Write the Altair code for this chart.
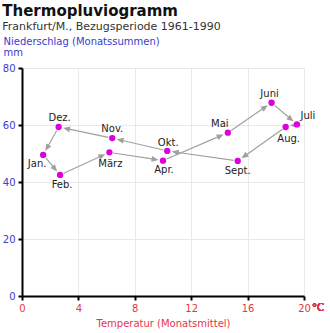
import math
import altair as alt
import pandas as pd

# ---- data ----
months = ["Jan.", "Feb.", "März", "Apr.", "Mai", "Juni", "Juli", "Aug.", "Sept.", "Okt.", "Nov.", "Dez."]
temp = [1.5, 2.7, 6.2, 10.0, 14.6, 17.7, 19.5, 18.7, 15.3, 10.3, 6.4, 2.6]
precip = [49.5, 42.5, 50.4, 47.5, 57.3, 67.8, 60.2, 59.3, 47.4, 50.9, 55.4, 59.3]
x_ticks = list(range(0, 21, 2))
y_ticks = list(range(0, 81, 10))

# ---- layout / style ----
W, H = 282, 228
X_MAX, Y_MAX = 20, 80
kx, ky = W / X_MAX, H / Y_MAX
FONT = "DejaVu Sans"
BLUE = "#3b3bcc"
RED = "#e8344a"
GRAY = "#a0a0a0"
MAGENTA = "#dd00dd"

label_offsets = {
    "Jan.": (-6, 9), "Feb.": (2, 10), "März": (1, 12), "Apr.": (1, 9),
    "Mai": (-8, -9), "Juni": (-2, -9), "Juli": (11, -8), "Aug.": (3, 12),
    "Sept.": (0, 10), "Okt.": (1, -8), "Nov.": (0, -9), "Dez.": (1, -9),
}

pts = pd.DataFrame({"month": months, "temp": temp, "precip": precip})

# arrow segments month i -> month i+1 (shortened in pixel space)
START_GAP, TIP_GAP, HEAD = 4.0, 4.5, 7.0
seg_rows = []
for i in range(len(months)):
    j = (i + 1) % len(months)
    x1, y1, x2, y2 = temp[i], precip[i], temp[j], precip[j]
    dxp, dyp = (x2 - x1) * kx, (y2 - y1) * ky
    L = math.hypot(dxp, dyp)
    ux, uy = dxp / L, dyp / L
    tip = max(L - TIP_GAP, START_GAP + 1)
    line_end = max(tip - HEAD * 0.7, START_GAP)
    seg_rows.append({
        "sx": x1 + ux * START_GAP / kx, "sy": y1 + uy * START_GAP / ky,
        "ex": x1 + ux * line_end / kx, "ey": y1 + uy * line_end / ky,
        "hx": x1 + ux * tip / kx, "hy": y1 + uy * tip / ky,
        "ang": math.degrees(math.atan2(-dyp, dxp)) % 360,
    })
segs = pd.DataFrame(seg_rows)

xscale = alt.Scale(domain=[0, X_MAX], nice=False, zero=True)
yscale = alt.Scale(domain=[0, Y_MAX], nice=False, zero=True)

xaxis = alt.Axis(
    values=x_ticks, title="Temperatur (Monatsmittel)", labelColor=RED, titleColor=RED,
    labelFont=FONT, labelFontSize=10, titleFont=FONT, titleFontSize=10,
    titleFontWeight="normal", domainColor="black", domainWidth=2, tickColor="black",
    tickWidth=2, tickSize=4, labelPadding=3, titlePadding=5, gridColor="#e9e9e9",
    labelFlush=False,
)
yaxis = alt.Axis(
    values=y_ticks, title=["Niederschlag (Monatssummen)", "mm"], titleAngle=0,
    titleAlign="left", titleBaseline="alphabetic", titleX=-19, titleY=-24,
    titleLineHeight=11, titleColor=BLUE, titleFont=FONT, titleFontSize=10,
    titleFontWeight="normal", labelColor=BLUE, labelFont=FONT, labelFontSize=10,
    domainColor="black", domainWidth=2, tickColor="black", tickWidth=2, tickSize=4,
    labelPadding=3, gridColor="#e9e9e9", labelFlush=False,
)


def X(f):
    return alt.X(f, type="quantitative", scale=xscale, axis=xaxis)


def Y(f):
    return alt.Y(f, type="quantitative", scale=yscale, axis=yaxis)


lines = alt.Chart(segs).mark_rule(color=GRAY, strokeWidth=1.2).encode(
    x=X("sx"), y=Y("sy"), x2="ex", y2="ey"
)
heads = alt.Chart(segs).mark_point(
    shape="M0,0L-1,-0.42L-1,0.42Z", filled=True, color=GRAY, opacity=1, size=196
).encode(x=X("hx"), y=Y("hy"), angle=alt.Angle("ang:Q", scale=None))
dots = alt.Chart(pts).mark_circle(color=MAGENTA, size=40, opacity=1).encode(
    x=X("temp"), y=Y("precip")
)

label_layers = []
for m in months:
    dx, dy = label_offsets[m]
    label_layers.append(
        alt.Chart(pts).transform_filter(alt.datum.month == m).mark_text(
            font=FONT, fontSize=10, color="#222222", dx=dx, dy=dy, baseline="middle"
        ).encode(x=X("temp"), y=Y("precip"), text="month:N")
    )

unit = alt.Chart(pts).mark_text(
    text="°C", font=FONT, fontSize=10, color=RED, align="left", baseline="top", dx=8, dy=7
).encode(x=alt.datum(X_MAX), y=alt.datum(0))

chart = alt.layer(lines, heads, dots, *label_layers, unit).properties(
    width=W, height=H,
    title=alt.TitleParams(
        "Thermopluviogramm", subtitle="Frankfurt/M., Bezugsperiode 1961-1990",
        anchor="start", frame="bounds", font=FONT, fontSize=15, fontWeight="bold",
        color="#111111", subtitleFont=FONT, subtitleFontSize=11, subtitleColor="#333333",
        subtitlePadding=2, offset=4,
    ),
    autosize=alt.AutoSizeParams(type="none"),
    padding={"left": 22, "top": 68, "right": 26, "bottom": 37},
).configure_view(stroke=None).configure(background="white")

chart.save("out.html", embed_options={"renderer": "svg", "actions": False})
